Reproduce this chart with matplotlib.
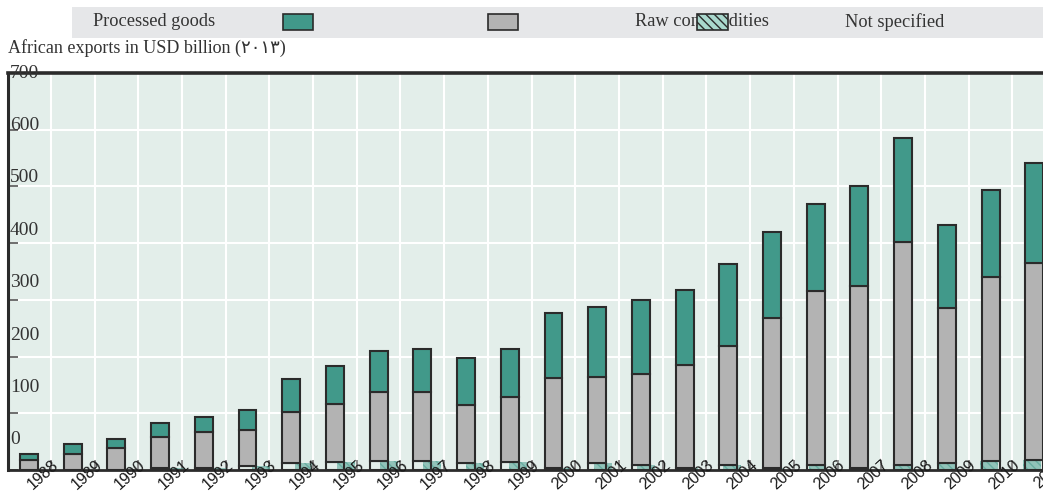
import matplotlib
matplotlib.use("Agg")
import matplotlib.pyplot as plt
from matplotlib.patches import Rectangle
import numpy as np

# ---------------- data ----------------
years = [str(y) for y in range(1988, 2012)]
not_specified = [0, 0, 0, 3, 3, 7, 12, 14, 15, 16, 13, 14, 3, 13, 8, 3, 8, 3, 8, 3, 8, 12, 16, 18]
raw_top = [17, 29, 38, 59, 67, 71, 102, 116, 138, 137, 115, 129, 162, 164, 169, 185, 219, 268, 316, 324, 402, 286, 340, 365]
total = [29, 45, 54, 82, 93, 106, 160, 183, 210, 213, 197, 213, 277, 287, 300, 317, 363, 420, 469, 501, 585, 432, 494, 541]
yticks = [0, 100, 200, 300, 400, 500, 600, 700]

raw = [r - n for r, n in zip(raw_top, not_specified)]
processed = [t - r for t, r in zip(total, raw_top)]

# ---------------- style ----------------
TEAL = "#41998a"
GRAY = "#b3b3b3"
BG = "#e3eeea"
EDGE = "#2b2b2b"
TXT = "#333333"
SERIF = ["Liberation Serif", "DejaVu Sans"]
SANS = ["Liberation Sans", "DejaVu Sans"]

W, H = 1043, 495
fig = plt.figure(figsize=(W / 100, H / 100), dpi=100)
ax = fig.add_axes([8 / W, (H - 470) / H, (W - 8) / W, (470 - 73) / H])
ax.set_facecolor(BG)

x = np.arange(len(years))
bw = 0.41

# hatched "not specified" bars (drawn on a slightly different scale, behind)
xh = 0.40 + 0.98 * x
ax.bar(xh, not_specified, width=bw, color=TEAL, alpha=0.5, hatch="\\\\\\\\",
       edgecolor=TEAL, linewidth=0, zorder=2)

ax.bar(x, not_specified, width=bw, facecolor="none", edgecolor=EDGE, linewidth=1.5, zorder=3)
ax.bar(x, raw, width=bw, bottom=not_specified, color=GRAY, edgecolor=EDGE, linewidth=1.5, zorder=3)
ax.bar(x, processed, width=bw, bottom=raw_top, color=TEAL, edgecolor=EDGE, linewidth=1.5, zorder=3)

ax.set_xlim(-0.48, 23.2)
ax.set_ylim(0, 700)

# grid
ax.set_yticks(yticks)
ax.set_xticks(x[:-1] + 0.5)
ax.grid(True, color="white", linewidth=1.5, zorder=0)
ax.set_axisbelow(True)
ax.tick_params(axis="y", direction="in", length=7, width=1.2, color="#555555", labelleft=False)
ax.tick_params(axis="x", direction="in", length=7, width=1.2, color="#777777", labelbottom=False)

ax.spines["right"].set_visible(False)
ax.spines["top"].set_linewidth(2.6)
ax.spines["top"].set_color(EDGE)
ax.spines["left"].set_linewidth(2.2)
ax.spines["left"].set_color(EDGE)
ax.spines["bottom"].set_linewidth(2.0)
ax.spines["bottom"].set_color(EDGE)

# y labels (vertically compressed relative to gridlines, as in the original)
for v in yticks:
    yf = 0.0756 + v / 700 * (1 - 0.0756)
    ax.text(0.002, yf, str(v), transform=ax.transAxes, ha="left", va="center",
            fontsize=14, family=SERIF, color=TXT, zorder=5)

# x labels (drawn over the axis line, as in the original)
for i, lab in enumerate(years):
    t = ax.annotate(lab, xy=(i + 0.62, 0), xycoords=("data", "axes fraction"),
                    xytext=(0, 5), textcoords="offset points",
                    rotation=42, rotation_mode="anchor", ha="right", va="center",
                    fontsize=11.5, family=SANS, color="#1a1a1a",
                    annotation_clip=False, zorder=10)
    t.set_clip_on(False)

# title
fig.text(8 / W, 1 - 48 / H, "African exports in USD billion (\u0662\u0660\u0661\u0663)",
         ha="left", va="center", fontsize=13, family=SERIF, color=TXT)

# legend band
def fx(px):
    return px / W

def fy(py):
    return 1 - py / H

fig.patches.append(Rectangle((fx(72), fy(38)), fx(1043) - fx(72), 31 / H,
                             transform=fig.transFigure, facecolor="#e6e7e9",
                             edgecolor="none", zorder=0))
fig.text(fx(93), fy(22), "Processed goods", ha="left", va="center", fontsize=13.2,
         family=SERIF, color=TXT)
fig.patches.append(Rectangle((fx(283), fy(30)), 30 / W, 16 / H, transform=fig.transFigure,
                             facecolor=TEAL, edgecolor=EDGE, linewidth=1.2, zorder=2))
fig.patches.append(Rectangle((fx(488), fy(30)), 30 / W, 16 / H, transform=fig.transFigure,
                             facecolor=GRAY, edgecolor=EDGE, linewidth=1.2, zorder=2))
fig.text(fx(635), fy(22), "Raw commodities", ha="left", va="center", fontsize=13.2,
         family=SERIF, color=TXT, zorder=1)
fig.patches.append(Rectangle((fx(697), fy(30)), 31 / W, 16 / H, transform=fig.transFigure,
                             facecolor="#a9d8cd", edgecolor=EDGE, linewidth=1.2,
                             hatch="\\\\\\\\", zorder=3))
fig.text(fx(845), fy(22), "Not specified", ha="left", va="center", fontsize=13.2,
         family=SERIF, color=TXT)

fig.savefig("out.png", dpi=100)
